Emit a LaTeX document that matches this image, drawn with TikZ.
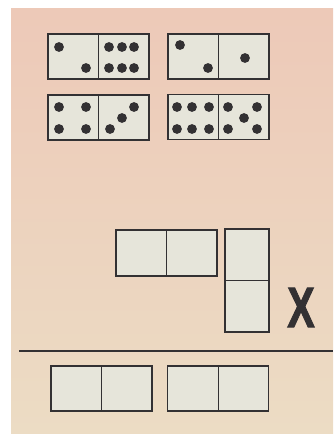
\documentclass[tikz,border=0pt]{standalone}
\usepackage{fontspec}
\newfontfamily\xfont{Liberation Sans}[BoldFeatures={FakeBold=2}]
\definecolor{papertop}{HTML}{EDC9B8}
\definecolor{paperbot}{HTML}{ECDCC4}
\definecolor{tile}{HTML}{E6E5DA}
\definecolor{ink}{HTML}{333133}
\begin{document}
\begin{tikzpicture}[x=1pt,y=-1pt,
  domino/.style={draw=ink,line width=1.5pt,fill=tile,rectangle,inner sep=0pt,minimum width=101pt,minimum height=45pt},
  divider/.style={draw=ink,line width=0.9pt},
  pip/.style={fill=ink,draw=none}]
\useasboundingbox (0,0) rectangle (333,434);
\fill[white] (0,0) rectangle (333,434);
\shade[top color=papertop,bottom color=paperbot] (11,8) rectangle (333,434);
% top dominoes
\node[domino] (d1) at (98.5,56.5) {};
\node[domino] (d2) at (218.5,56.5) {};
\node[domino] (d3) at (98.5,117.5) {};
\node[domino] (d4) at (218.5,117) {};
\draw[divider] (d1.north) -- (d1.south);
\draw[divider] (d2.north) -- (d2.south);
\draw[divider] (d3.north) -- (d3.south);
\draw[divider] (d4.north) -- (d4.south);
% pips d1
\foreach \p in {(59,47),(86,68),(109,47),(122,47),(134,47),(109,68),(122,68),(134,68)}
  \fill[pip] \p circle (4.9);
% pips d2
\foreach \p in {(180,45),(208,68),(245,58)}
  \fill[pip] \p circle (4.9);
% pips d3
\foreach \p in {(59,107),(86,107),(59,129),(86,129),(110,129),(122,118),(134,107)}
  \fill[pip] \p circle (4.9);
% pips d4
\foreach \p in {(177,107),(192,107),(209,107),(177,129),(192,129),(209,129),(228,107),(257,107),(244,118),(228,129),(257,129)}
  \fill[pip] \p circle (4.9);
% middle dominoes
\node[domino,minimum height=46pt] (d5) at (166.5,253) {};
\draw[divider] (d5.north) -- (d5.south);
\node[domino,minimum width=44pt,minimum height=103pt] (d6) at (247,280.5) {};
\draw[divider] (d6.west) -- (d6.east);
\node[text=ink,inner sep=0pt] (x) at (301,307.5) {\scalebox{0.72}[1]{\xfont\bfseries\fontsize{57}{57}\selectfont X}};
% separator
\coordinate (l1) at (19,351);
\coordinate (l2) at (333,351);
\draw[ink,line width=1.3pt] (l1) -- (l2);
% bottom dominoes
\node[domino] (d7) at (101.5,388.5) {};
\node[domino] (d8) at (218,388.5) {};
\draw[divider] (d7.north) -- (d7.south);
\draw[divider] (d8.north) -- (d8.south);
\end{tikzpicture}
\end{document}
